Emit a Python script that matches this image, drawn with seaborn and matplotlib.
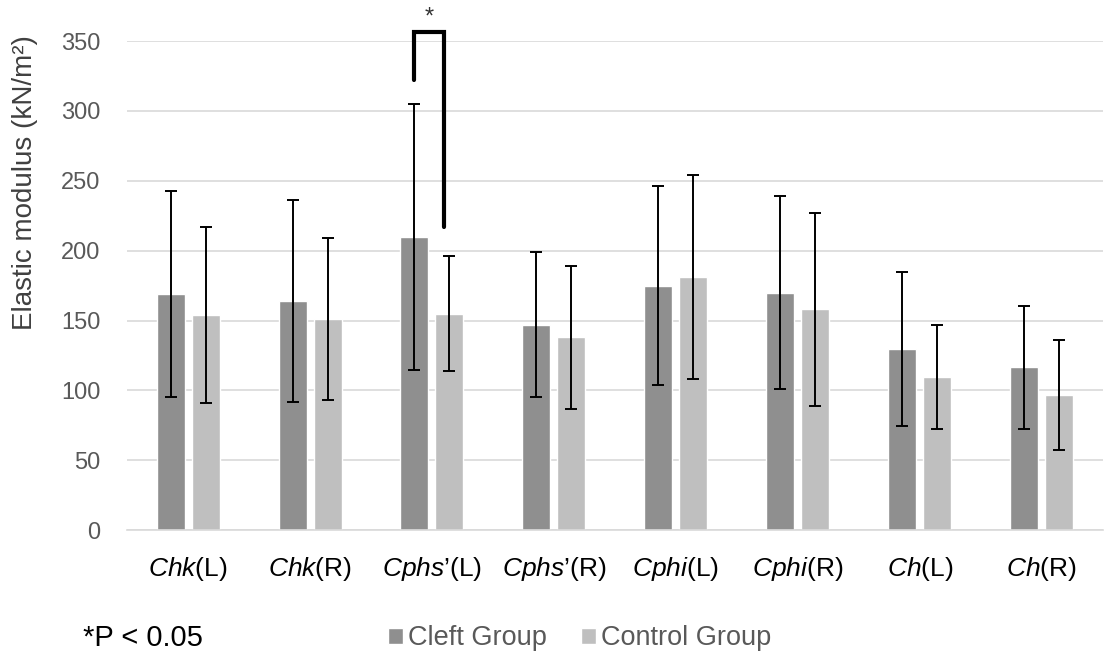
import matplotlib
matplotlib.use("Agg")
import matplotlib.pyplot as plt
import seaborn as sns
import pandas as pd
import numpy as np

categories = [r"$\mathit{Chk}$(L)", r"$\mathit{Chk}$(R)", r"$\mathit{Cphs’}$(L)", r"$\mathit{Cphs’}$(R)",
              r"$\mathit{Cphi}$(L)", r"$\mathit{Cphi}$(R)", r"$\mathit{Ch}$(L)", r"$\mathit{Ch}$(R)"]
groups = ["Cleft Group", "Control Group"]
cleft_mean = [169, 164, 210, 147, 175, 170, 129.5, 116.7]
cleft_sd = [74, 72, 95, 52, 71, 69, 55, 44]
control_mean = [154, 151, 155, 138, 181, 158, 109.5, 96.6]
control_sd = [63, 58, 41, 51, 73, 69, 37, 39.5]
yticks = [0, 50, 100, 150, 200, 250, 300, 350]

sns.set_theme(style="white")
plt.rcParams['font.family'] = ['Liberation Sans', 'DejaVu Sans']
plt.rcParams['mathtext.fontset'] = 'custom'
plt.rcParams['mathtext.rm'] = 'Liberation Sans'
plt.rcParams['mathtext.it'] = 'Liberation Sans:italic'

df = pd.DataFrame({
    "cat": categories * 2,
    "group": [groups[0]] * 8 + [groups[1]] * 8,
    "value": cleft_mean + control_mean,
})

fig = plt.figure(figsize=(11.05, 6.62), dpi=100)
ax = fig.add_axes([0.115, 0.199, 0.883, 0.739])
sns.barplot(data=df, x="cat", y="value", hue="group", order=categories,
            hue_order=groups, palette=["#8f8f8f", "#bfbfbf"], width=0.574, gap=0.2,
            errorbar=None, ax=ax, saturation=1, legend=True)

# error bars from bar patches
containers = list(ax.containers)
sds = [cleft_sd, control_sd]
means = [cleft_mean, control_mean]
centers = []
for ci, cont in enumerate(containers):
    xs = [p.get_x() + p.get_width() / 2 for p in cont.patches]
    centers.append(xs)
    ax.errorbar(xs, means[ci], yerr=sds[ci], fmt="none", ecolor="black",
                elinewidth=1.4, capsize=4, capthick=1.4, zorder=5)

ax.set_ylim(0, 350)
ax.set_xlim(-0.5, 7.5)
ax.set_yticks(yticks)
ax.yaxis.grid(True, color="#d9d9d9", linewidth=1.2)
ax.set_axisbelow(True)
for s in ["top", "right", "left"]:
    ax.spines[s].set_visible(False)
ax.spines["bottom"].set_color("#d9d9d9")
ax.spines["bottom"].set_linewidth(1.2)
ax.tick_params(axis="y", length=0, labelsize=17, labelcolor="#595959", pad=19)
ax.tick_params(axis="x", length=0, labelsize=19, labelcolor="black", pad=18)
ax.set_xlabel("")
ax.set_ylabel("Elastic modulus (kN/m²)", fontsize=20, color="#404040")
ax.yaxis.set_label_coords(-0.091, 0.71)

# significance bracket
x1 = centers[0][2]
x2 = centers[1][2] - 0.045
ax.plot([x1, x1, x2, x2], [322, 356.5, 356.5, 217], color="black", lw=3,
        clip_on=False, zorder=6, solid_joinstyle="miter")
ax.text((x1 + x2) / 2, 359, "*", ha="center", va="bottom", fontsize=17, color="#333333")

leg = ax.legend(loc="center", bbox_to_anchor=(0.464, -0.221), ncol=2, frameon=False,
                fontsize=19.5, handlelength=0.55, handleheight=0.55, handletextpad=0.2,
                columnspacing=1.25, borderpad=0)
for t in leg.get_texts():
    t.set_color("#595959")

fig.text(83 / 1105, 1 - 638 / 662, "*P < 0.05", fontsize=21, color="black", ha="left", va="center")

fig.savefig("out.png", dpi=100)
